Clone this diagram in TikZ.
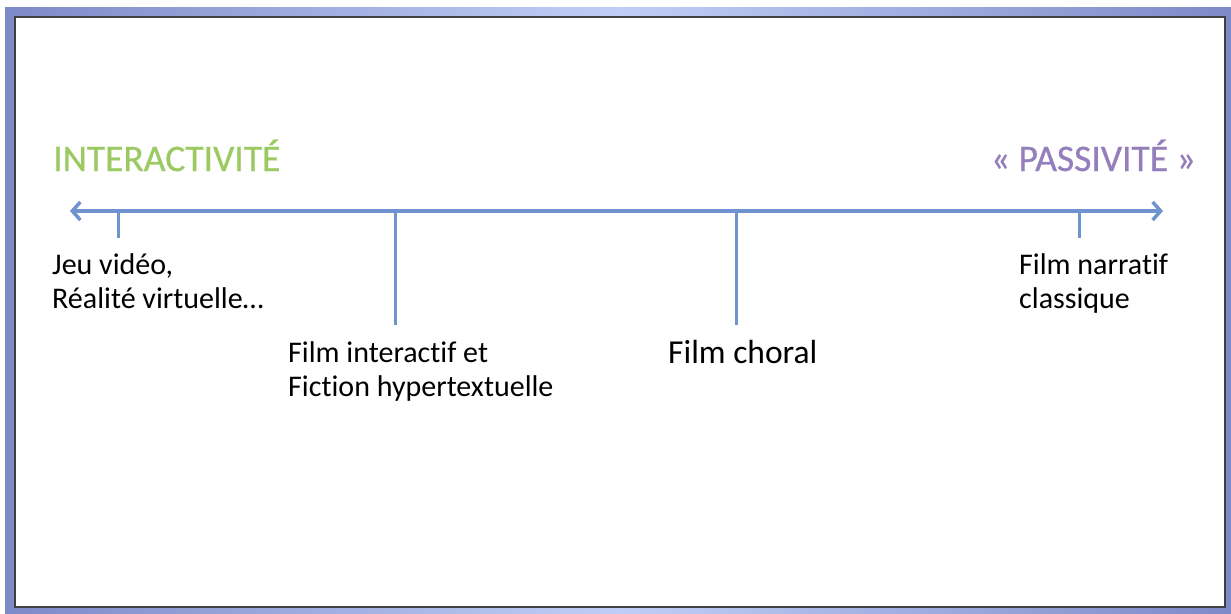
\documentclass[tikz,border=0pt]{standalone}
\usepackage{fontspec}
\setmainfont{Carlito}[Ligatures=NoCommon]
\newfontfamily\headfont{Carlito}[Ligatures=NoCommon,FakeBold=0.6]
\usetikzlibrary{calc,arrows.meta}
\definecolor{axisblue}{RGB}{111,147,206}
\definecolor{titlegreen}{RGB}{155,202,98}
\definecolor{titlepurple}{RGB}{148,126,188}
\definecolor{framedark}{RGB}{125,138,200}
\definecolor{framelight}{RGB}{192,206,246}
\tikzset{
  axisline/.style={line width=3.5pt, color=axisblue},
  tickline/.style={line width=3pt, color=axisblue},
  caption/.style={inner sep=0pt, align=left, font=\fontsize{30}{33.5}\selectfont},
  heading/.style={inner sep=0pt, font=\headfont\fontsize{37.5}{44}\selectfont}
}

\begin{document}
\begin{tikzpicture}[x=1pt,y=-1pt]
		%%%%% START %%%%%
		\useasboundingbox (0,0) rectangle (1231,613);
		\fill[white] (0,0) rectangle (1231,613);
		
		% frame
		\shade[left color=framedark, right color=framedark, middle color=framelight] (5,7) rectangle (1231,613);
		\draw[fill=white, draw=black!75, line width=1.5pt] (15,17) rectangle (1225,607);
		
		% headings
		\node[heading, color=titlegreen, anchor=base west] (inter) at (53,171) {INTERACTIVITÉ};
		\node[heading, color=titlepurple, anchor=base east] (passi) at (1196,171) {« PASSIVITÉ »};
		
		% axis
		\coordinate (axL) at (70,211);
		\coordinate (axR) at (1163,211);
		\draw[axisline, {Straight Barb[length=8pt,width=18pt]}-{Straight Barb[length=8pt,width=18pt]}] (axL) -- (axR);
		
		% ticks
		\foreach \name/\x/\y in {jeu/118/238, hyper/395/325, choral/736/325, narr/1079/238}{
			\coordinate (t\name) at (\x,211);
			\coordinate (b\name) at (\x,\y);
			\draw[tickline] (t\name) -- (b\name);
		}
		
		% labels (base = last line)
		\node[caption, anchor=base west] (jeu) at (52,308) {Jeu vidéo,\\Réalité virtuelle…};
		\node[caption, anchor=base west] (hyper) at (288,396) {Film interactif et\\Fiction hypertextuelle};
		\node[caption, anchor=base west, font=\fontsize{33.5}{38}\selectfont] (choral) at (668,363) {Film choral};
		\node[caption, anchor=base west] (narr) at (1019,308) {Film narratif\\classique};
		%%%%% END %%%%%
\end{tikzpicture}
\end{document}
